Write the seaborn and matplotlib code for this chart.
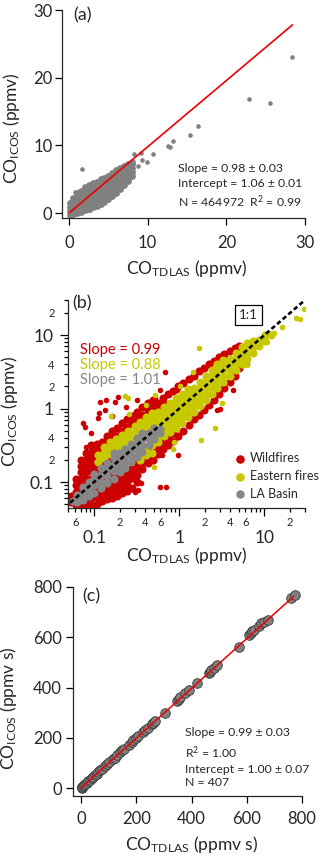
"""
CO comparison: ICOS vs TDLAS, three stacked panels (a), (b), (c)
"""
import matplotlib
matplotlib.use("Agg")
import matplotlib.pyplot as plt
import matplotlib.ticker as mticker
import seaborn as sns


# ---------- panel (a): 1 Hz mixing ratios (ppmv) ----------
# dense cloud, read column by column: (TDLAS, [ICOS values])
a_cloud = [
    (0.1, [-0.3, 0.3, 0.9, 1.5]),
    (0.5, [-0.2, 0.4, 1.0, 1.6, 2.2]),
    (1.0, [0.0, 0.6, 1.2, 1.8, 2.4, 3.0]),
    (1.5, [0.2, 0.8, 1.4, 2.0, 2.6, 3.2]),
    (2.0, [0.4, 1.0, 1.6, 2.2, 2.8, 3.4, 3.9]),
    (2.5, [0.6, 1.2, 1.8, 2.4, 3.0, 3.6, 4.2]),
    (3.0, [0.9, 1.5, 2.1, 2.7, 3.3, 3.9, 4.4]),
    (3.5, [1.1, 1.7, 2.3, 2.9, 3.5, 4.1, 4.6]),
    (4.0, [1.4, 2.0, 2.6, 3.2, 3.8, 4.4, 5.0]),
    (4.5, [1.7, 2.3, 2.9, 3.5, 4.1, 4.7, 5.2]),
    (5.0, [2.0, 2.6, 3.2, 3.8, 4.4, 5.0, 5.5]),
    (5.5, [2.5, 3.1, 3.7, 4.3, 4.9, 5.4, 5.9]),
    (6.0, [3.0, 3.6, 4.2, 4.8, 5.4, 5.9, 6.3]),
    (6.5, [3.5, 4.1, 4.7, 5.3, 5.9, 6.4, 6.7]),
    (7.0, [4.1, 4.7, 5.3, 5.9, 6.5, 7.0]),
    (7.5, [4.7, 5.3, 5.9, 6.5, 7.0, 7.3]),
    (8.0, [5.5, 6.1, 6.7, 7.3, 7.6]),
]
a_out_x = [28.4, 22.9, 25.6, 16.35, 15.4, 13.2, 12.8, 12.6, 10.7, 9.95, 9.15,
           9.3, 8.2, 8.8, 1.7, 6.6, 0.7, 2.7, 6.35]
a_out_y = [23.0, 16.8, 16.3, 12.85, 11.6, 10.7, 9.8, 9.9, 8.7, 7.6, 8.9,
           7.9, 8.7, 6.9, 6.5, 3.9, 3.05, 0.45, 4.1]
a_fit_x = [0.0, 28.4]
a_fit_y = [0.0, 27.8]

# ---------- panel (b): log-log, three source types ----------
groups = ["Wildfires", "Eastern fires", "LA Basin"]
group_colors = ["#cc0000", "#c8c800", "#878787"]
slope_labels = ["Slope = 0.99", "Slope = 0.88", "Slope = 1.01"]

wf_cloud = [
    (0.054, [0.054, 0.065]),
    (0.062, [0.049, 0.060, 0.074, 0.091, 0.11]),
    (0.071, [0.048, 0.059, 0.072, 0.089, 0.11, 0.135, 0.166, 0.20]),
    (0.081, [0.048, 0.059, 0.072, 0.089, 0.11, 0.135, 0.166, 0.20, 0.25]),
    (0.093, [0.049, 0.060, 0.074, 0.091, 0.11, 0.14, 0.17, 0.21, 0.26, 0.32]),
    (0.107, [0.051, 0.063, 0.078, 0.095, 0.117, 0.145, 0.178, 0.22, 0.27, 0.33]),
    (0.123, [0.055, 0.068, 0.083, 0.102, 0.126, 0.155, 0.19, 0.234, 0.29, 0.355]),
    (0.141, [0.058, 0.071, 0.087, 0.107, 0.132, 0.162, 0.20, 0.245, 0.30, 0.37, 0.43]),
    (0.162, [0.060, 0.074, 0.091, 0.112, 0.138, 0.17, 0.21, 0.26, 0.32, 0.40, 0.49]),
    (0.186, [0.065, 0.079, 0.097, 0.12, 0.148, 0.18, 0.22, 0.275, 0.34, 0.42, 0.55]),
    (0.21, [0.071, 0.089, 0.11, 0.126, 0.50, 0.63]),
    (0.245, [0.076, 0.10, 0.12, 0.138, 0.56, 0.71]),
    (0.28, [0.083, 0.112, 0.135, 0.158, 0.63, 0.79]),
    (0.32, [0.10, 0.126, 0.155, 0.182, 0.72, 0.91]),
    (0.37, [0.15, 0.18, 0.21, 0.235, 0.83, 1.05]),
    (0.43, [0.18, 0.22, 0.26, 0.95, 1.2]),
    (0.49, [0.20, 0.24, 0.28, 1.05, 1.32]),
    (0.56, [0.24, 0.30, 1.0, 1.2]),
    (0.65, [0.28, 0.35, 1.2, 1.38]),
    (0.74, [0.32, 0.40, 1.58]),
    (0.85, [0.36, 0.46, 1.74]),
    (0.98, [0.42, 2.0]),
    (1.12, [0.50, 2.2]),
    (1.29, [0.60, 2.5]),
    (1.48, [0.71, 2.8]),
    (1.7, [0.83, 3.2]),
    (1.95, [0.95, 3.55]),
    (2.24, [1.12, 4.0]),
    (2.57, [1.32, 4.5]),
    (2.95, [1.58, 5.0]),
    (3.4, [1.9, 5.5]),
    (3.9, [2.3, 6.0]),
    (4.5, [2.8, 6.6]),
    (5.1, [3.55, 7.2]),
    (5.9, [4.5]),
]
wf_out_x = [0.118, 0.138, 0.19, 0.115, 0.074, 0.092, 0.081, 0.178, 0.135, 0.112,
            0.162, 0.078, 0.24, 0.32, 0.52, 0.60, 0.68, 1.02, 0.94, 0.25,
            0.30, 0.33, 0.36, 0.59, 0.70, 0.32, 0.63, 0.98, 3.0, 4.3,
            2.75, 3.0, 7.2, 5.0, 6.3]
wf_out_y = [1.24, 1.3, 1.45, 0.86, 0.64, 0.46, 0.30, 1.23, 0.95, 0.74,
            0.78, 0.56, 1.05, 1.32, 1.38, 1.78, 3.17, 2.1, 1.78, 0.086,
            0.074, 0.078, 0.096, 0.086, 0.086, 0.138, 0.23, 0.23, 1.0, 1.8,
            0.95, 5.1, 7.3, 5.9, 4.1]

ef_cloud = [
    (0.11, [0.19, 0.23]),
    (0.13, [0.21, 0.25, 0.30]),
    (0.155, [0.24, 0.29, 0.35]),
    (0.18, [0.26, 0.32, 0.38]),
    (0.21, [0.30, 0.36, 0.44]),
    (0.25, [0.35, 0.42, 0.50]),
    (0.30, [0.40, 0.48, 0.58]),
    (0.35, [0.20, 0.24, 0.46, 0.55, 0.66]),
    (0.41, [0.23, 0.28, 0.52, 0.63, 0.76]),
    (0.48, [0.25, 0.32, 0.60, 0.72, 0.87]),
    (0.56, [0.35, 0.43, 0.51, 0.62, 0.74, 0.89]),
    (0.66, [0.42, 0.50, 0.60, 0.72, 0.87, 1.05]),
    (0.78, [0.48, 0.58, 0.69, 0.83, 1.0, 1.2]),
    (0.91, [0.55, 0.66, 0.79, 0.95, 1.15, 1.38]),
    (1.07, [0.63, 0.76, 0.91, 1.1, 1.32, 1.58]),
    (1.26, [0.76, 0.91, 1.1, 1.32, 1.58, 1.82]),
    (1.48, [0.91, 1.1, 1.32, 1.58, 1.9]),
    (1.74, [1.1, 1.32, 1.58, 1.9, 2.3]),
    (2.04, [1.32, 1.58, 1.9, 2.3, 2.75]),
    (2.4, [1.58, 1.9, 2.3, 2.75, 3.3]),
    (2.8, [1.9, 2.3, 2.75, 3.3, 4.0]),
    (3.3, [2.3, 2.75, 3.3, 4.0, 4.6]),
    (3.9, [2.75, 3.3, 4.0, 4.8]),
    (4.6, [3.3, 4.0, 4.8, 5.75]),
    (5.4, [4.0, 4.8, 5.75, 6.9]),
    (6.3, [4.8, 5.75, 6.9, 7.9]),
    (7.4, [5.75, 6.9, 8.3]),
    (8.7, [7.2, 8.7]),
    (10.2, [8.3, 10.0]),
    (12.0, [10.0]),
]
ef_out_x = [11.8, 13.1, 16.2, 10.7, 23.8, 26.0, 29.0, 1.69, 2.65, 3.17, 1.47,
            0.23, 0.52, 0.41, 0.16, 0.26, 0.85, 0.51, 0.87, 1.78, 0.25, 1.02, 6.3]
ef_out_y = [10.2, 10.7, 12.9, 8.1, 16.9, 16.4, 23.0, 6.6, 0.54, 1.18, 3.1,
            1.5, 1.55, 1.12, 0.78, 0.85, 0.28, 0.16, 0.35, 0.37, 1.38, 2.0, 3.9]

la_cloud = [
    (0.056, [0.056]),
    (0.063, [0.054, 0.066]),
    (0.074, [0.057, 0.071, 0.085]),
    (0.087, [0.064, 0.080, 0.10]),
    (0.10, [0.072, 0.090, 0.11, 0.13]),
    (0.12, [0.082, 0.10, 0.125, 0.155]),
    (0.14, [0.097, 0.12, 0.145, 0.18]),
    (0.17, [0.11, 0.14, 0.17, 0.21, 0.25]),
    (0.20, [0.135, 0.165, 0.20, 0.245]),
    (0.23, [0.155, 0.19, 0.23, 0.28]),
    (0.27, [0.185, 0.225, 0.27, 0.33]),
    (0.32, [0.22, 0.27, 0.33, 0.40]),
    (0.37, [0.26, 0.32, 0.39, 0.46]),
    (0.44, [0.32, 0.38, 0.46]),
    (0.51, [0.38, 0.46, 0.54]),
    (0.60, [0.47, 0.53]),
]
one_to_one = [0.045, 30.0]

# ---------- panel (c): integrated plume CO (ppmv s) ----------
c_x = [2, 3, 5, 8, 10, 15, 20, 27, 33, 39, 45, 51, 58, 63, 70, 75, 87, 95,
       103, 115, 122, 130, 142, 148, 154, 172, 184, 190, 200, 208, 224, 230,
       241, 257, 262, 269, 305, 348, 355, 360, 378, 390, 418, 462, 467, 470,
       481, 493, 572, 608, 615, 620, 627, 645, 650, 661, 675, 760, 775]
c_y = [2, 4, 6, 9, 11, 16, 21, 28, 33, 40, 46, 52, 57, 63, 71, 76, 88, 95,
       104, 117, 121, 131, 142, 150, 155, 172, 184, 192, 199, 207, 224, 232,
       241, 255, 260, 268, 300, 347, 356, 361, 377, 390, 417, 458, 462, 470,
       476, 489, 562, 608, 615, 625, 630, 645, 655, 661, 670, 758, 767]
c_fit_x = [0.0, 770.0]
c_fit_y = [1.0, 763.0]


def expand(cloud):
    xs, ys = [], []
    for x, col in cloud:
        xs += [x] * len(col)
        ys += list(col)
    return xs, ys


def style_axes(ax):
    sns.despine(ax=ax)
    for side in ("left", "bottom"):
        ax.spines[side].set_linewidth(0.9)
    ax.tick_params(which="both", direction="out", width=0.9, color="k")


sns.set_style("ticks")
plt.rcParams["font.family"] = ["Lato", "DejaVu Sans"]
plt.rcParams["mathtext.fontset"] = "custom"
plt.rcParams["mathtext.rm"] = "Lato"
plt.rcParams["mathtext.it"] = "Lato:italic"
plt.rcParams["mathtext.bf"] = "Lato:bold"

fig = plt.figure(figsize=(3.2, 8.57), dpi=100)
label_size = 12.5
tick_size = 12
note_size = 8.8

# ---- (a) ----
ax_a = fig.add_axes([0.194, 0.7456, 0.759, 0.2427])
acx, acy = expand(a_cloud)
sns.scatterplot(x=acx, y=acy, color="#808080", s=24, linewidth=0, ax=ax_a)
sns.scatterplot(x=a_out_x, y=a_out_y, color="#808080", s=11, linewidth=0, ax=ax_a)
sns.lineplot(x=a_fit_x, y=a_fit_y, color="#ee0000", lw=1.2, ax=ax_a)
ax_a.set_xlim(-0.89, 30)
ax_a.set_ylim(-0.74, 30)
ax_a.set_xticks([0, 10, 20, 30])
ax_a.set_yticks([0, 10, 20, 30])
style_axes(ax_a)
ax_a.tick_params(length=5, labelsize=tick_size)
ax_a.tick_params(axis="x", pad=7)
ax_a.tick_params(axis="y", pad=2)
ax_a.set_xlabel(r"CO$_{\rm TDLAS}$ (ppmv)", fontsize=label_size, va="center")
ax_a.set_ylabel(r"CO$_{\rm ICOS}$ (ppmv)", fontsize=label_size, va="center")
ax_a.xaxis.set_label_coords(0.513, -0.245)
ax_a.yaxis.set_label_coords(-0.21, 0.431)
ax_a.text(0.045, 0.976, "(a)", transform=ax_a.transAxes, fontsize=13,
          ha="left", va="center")
for yy, txt in zip([0.239, 0.167, 0.078],
                   ["Slope = 0.98 ± 0.03", "Intercept = 1.06 ± 0.01",
                    r"N = 464972  R$^2$ = 0.99"]):
    ax_a.text(0.477, yy, txt, transform=ax_a.transAxes, fontsize=note_size,
              ha="left", va="center")

# ---- (b) ----
ax_b = fig.add_axes([0.2125, 0.4072, 0.7406, 0.2427])
b_sets = [
    (expand(wf_cloud), (wf_out_x, wf_out_y)),
    (expand(ef_cloud), (ef_out_x, ef_out_y)),
    (expand(la_cloud), ([], [])),
]
for name, col, (cloud, outl) in zip(groups, group_colors, b_sets):
    sns.scatterplot(x=cloud[0], y=cloud[1], color=col, s=34, linewidth=0,
                    label=name, ax=ax_b)
    if outl[0]:
        sns.scatterplot(x=outl[0], y=outl[1], color=col, s=16, linewidth=0, ax=ax_b)
sns.lineplot(x=one_to_one, y=one_to_one, color="k", lw=1.9,
             linestyle=(0, (1.7, 1.1)), ax=ax_b)
ax_b.set_xscale("log")
ax_b.set_yscale("log")
ax_b.set_xlim(0.0494, 30)
ax_b.set_ylim(0.0443, 30)

minor_vals = [m * 10.0 ** e for e in (-2, -1, 0, 1) for m in range(2, 10)]
ax_b.xaxis.set_major_locator(mticker.FixedLocator([0.1, 1, 10]))
ax_b.yaxis.set_major_locator(mticker.FixedLocator([0.1, 1, 10]))
ax_b.xaxis.set_minor_locator(mticker.FixedLocator(minor_vals))
ax_b.yaxis.set_minor_locator(mticker.FixedLocator(minor_vals))
major_names = {0.1: "0.1", 1.0: "1", 10.0: "10"}
x_minor_names = {0.06: "6", 0.2: "2", 0.4: "4", 0.6: "6", 2.0: "2", 4.0: "4",
                 6.0: "6", 20.0: "2"}
y_minor_names = {0.2: "2", 0.4: "4", 2.0: "2", 4.0: "4", 20.0: "2"}
ax_b.xaxis.set_major_formatter(mticker.FuncFormatter(
    lambda v, p: major_names.get(round(v, 3), "")))
ax_b.yaxis.set_major_formatter(mticker.FuncFormatter(
    lambda v, p: major_names.get(round(v, 3), "")))
ax_b.xaxis.set_minor_formatter(mticker.FuncFormatter(
    lambda v, p: x_minor_names.get(round(v, 3), "")))
ax_b.yaxis.set_minor_formatter(mticker.FuncFormatter(
    lambda v, p: y_minor_names.get(round(v, 3), "")))
style_axes(ax_b)
ax_b.tick_params(which="major", length=5.5, labelsize=12.5)
ax_b.tick_params(which="minor", length=3, labelsize=8)
ax_b.tick_params(axis="x", which="major", pad=10)
ax_b.tick_params(axis="x", which="minor", pad=3.5)
ax_b.tick_params(axis="y", which="major", pad=4.5)
ax_b.tick_params(axis="y", which="minor", pad=6.5)
ax_b.set_xlabel(r"CO$_{\rm TDLAS}$ (ppmv)", fontsize=label_size, va="center")
ax_b.set_ylabel(r"CO$_{\rm ICOS}$ (ppmv)", fontsize=label_size, va="center")
ax_b.xaxis.set_label_coords(0.50, -0.23)
ax_b.yaxis.set_label_coords(-0.245, 0.467)
ax_b.text(0.02, 0.986, "(b)", transform=ax_b.transAxes, fontsize=13,
          ha="left", va="center")
for yy, txt, col in zip([0.76, 0.6875, 0.615], slope_labels, group_colors):
    ax_b.text(0.05, yy, txt, transform=ax_b.transAxes, fontsize=10.5,
              color=col, ha="left", va="center")
ax_b.text(0.762, 0.928, "1:1", transform=ax_b.transAxes, fontsize=9.5,
          ha="center", va="center",
          bbox=dict(boxstyle="square,pad=0.3", fc="white", ec="k", lw=0.9))
handles, labels = ax_b.get_legend_handles_labels()
ax_b.legend(handles[:3], labels[:3], loc="upper left", bbox_to_anchor=(0.695, 0.268),
            frameon=False, fontsize=9, markerscale=1.05, handletextpad=0.15,
            labelspacing=0.45, borderpad=0, borderaxespad=0, handlelength=1.2)

# ---- (c) ----
ax_c = fig.add_axes([0.228, 0.0712, 0.716, 0.2439])
sns.scatterplot(x=c_x, y=c_y, color="#808080", s=48, edgecolor="#3a3a3a",
                linewidth=0.6, ax=ax_c)
sns.lineplot(x=c_fit_x, y=c_fit_y, color="#ee0000", lw=1.1, ax=ax_c)
ax_c.set_xlim(-29, 800)
ax_c.set_ylim(-31, 800)
ax_c.set_xticks([0, 200, 400, 600, 800])
ax_c.set_yticks([0, 200, 400, 600, 800])
style_axes(ax_c)
ax_c.tick_params(length=5, labelsize=tick_size)
ax_c.tick_params(axis="x", pad=6)
ax_c.tick_params(axis="y", pad=3)
ax_c.set_xlabel(r"CO$_{\rm TDLAS}$ (ppmv s)", fontsize=label_size, va="center")
ax_c.set_ylabel(r"CO$_{\rm ICOS}$ (ppmv s)", fontsize=label_size, va="center")
ax_c.xaxis.set_label_coords(0.518, -0.234)
ax_c.yaxis.set_label_coords(-0.28, 0.42)
ax_c.text(0.039, 0.954, "(c)", transform=ax_c.transAxes, fontsize=13,
          ha="left", va="center")
for yy, txt in zip([0.303, 0.207, 0.128, 0.064],
                   ["Slope = 0.99 ± 0.03", r"R$^2$ = 1.00",
                    "Intercept = 1.00 ± 0.07", "N = 407"]):
    ax_c.text(0.489, yy, txt, transform=ax_c.transAxes, fontsize=note_size,
              ha="left", va="center")

fig.savefig("out.png", dpi=100)
